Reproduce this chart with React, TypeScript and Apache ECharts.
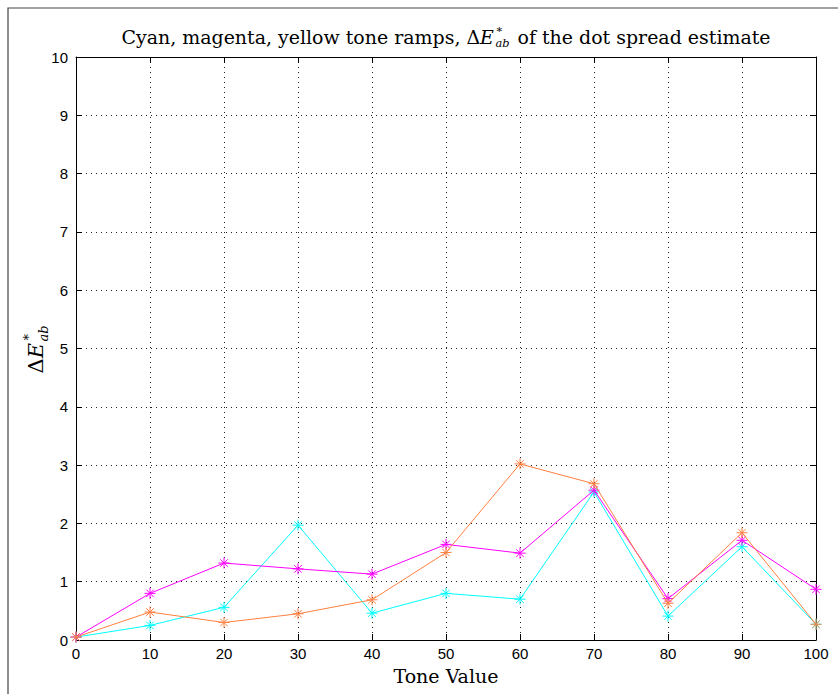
import React, { useEffect, useRef } from "react";
import * as echarts from "echarts";

const toneValues = [0, 10, 20, 30, 40, 50, 60, 70, 80, 90, 100];
const cyanValues = [0.05, 0.25, 0.56, 1.97, 0.46, 0.8, 0.7, 2.54, 0.41, 1.6, 0.27];
const magentaValues = [0.05, 0.8, 1.32, 1.22, 1.13, 1.64, 1.49, 2.57, 0.71, 1.71, 0.87];
const yellowValues = [0.05, 0.48, 0.3, 0.45, 0.69, 1.5, 3.02, 2.68, 0.63, 1.84, 0.27];
const seriesNames = ["Cyan", "Magenta", "Yellow"];
const seriesColors = ["#00FFFF", "#FF00FF", "#FF8040"];

const W = 838;
const H = 694;
const GRID = { left: 76, right: 22, top: 57, bottom: 54 };

const SERIF = "'DejaVu Serif', 'Liberation Serif', serif";
const SANS = "'Liberation Sans', Arial, sans-serif";

const ASTERISK = "path://M5,0L5,10M0,5L10,5M1.6,1.6L8.4,8.4M8.4,1.6L1.6,8.4";

function measure(text: string, font: string): number {
  const c = document.createElement("canvas");
  const ctx = c.getContext("2d")!;
  ctx.font = font;
  return ctx.measureText(text).width;
}

// builds graphic texts for "before ΔE*_ab after", vertically centred on y = 0
function mathLabel(before: string, after: string, size: number, small: number) {
  const fMain = `${size}px ${SERIF}`;
  const fItal = `italic ${size}px ${SERIF}`;
  const fSmallI = `italic ${small}px ${SERIF}`;
  const wBefore = measure(before + "Δ", fMain);
  const wE = measure("E", fItal);
  const wSub = measure("ab", fSmallI);
  const wScript = wSub + 2;
  const wAfter = after ? measure(after, fMain) : 0;
  const total = wBefore + wE + 1.5 + wScript + wAfter;
  const parts: any[] = [];
  const base = { fill: "#000", textVerticalAlign: "middle", textAlign: "left" };
  const lh = size * 0.68;
  let x = 0;
  parts.push({ type: "text", x, y: 0, style: { ...base, text: before + "Δ", font: fMain } });
  x += wBefore;
  parts.push({ type: "text", x, y: 0, style: { ...base, text: "E", font: fItal } });
  x += wE + 1.5;
  parts.push({
    type: "text",
    x,
    y: 0,
    style: {
      ...base,
      text: "{sup|*}\n{sub|ab}",
      rich: {
        sup: { fontFamily: SERIF, fontSize: small, lineHeight: lh, height: lh, fill: "#000", padding: [0, 0, 0, 1] },
        sub: { fontFamily: SERIF, fontStyle: "italic", fontSize: small, lineHeight: lh, height: lh, fill: "#000" },
      },
    },
  });
  x += wScript;
  if (after) {
    parts.push({ type: "text", x, y: 0, style: { ...base, text: after, font: fMain } });
  }
  return { parts, total };
}

export default function App() {
  const ref = useRef<HTMLDivElement>(null);
  useEffect(() => {
    if (!ref.current) return;
    const chart = echarts.init(ref.current, null, { renderer: "svg", width: W, height: H });

    const plotCx = GRID.left + (W - GRID.left - GRID.right) / 2;
    const plotCy = GRID.top + (H - GRID.top - GRID.bottom) / 2;

    // fit the title to the reference width
    const probe = mathLabel("Cyan, magenta, yellow tone ramps, ", " of the dot spread estimate", 18, 11);
    const tSize = Math.min(20, Math.max(14, (18 * 650) / probe.total));
    const title = mathLabel("Cyan, magenta, yellow tone ramps, ", " of the dot spread estimate", tSize, tSize * 0.6);
    const ylab = mathLabel("", "", 21, 13);

    const values = [cyanValues, magentaValues, yellowValues];
    const series = values.map((vals, i) => ({
      name: seriesNames[i],
      type: "line",
      xAxisIndex: 0,
      yAxisIndex: 0,
      data: toneValues.map((t, k) => [t, vals[k]]),
      symbol: ASTERISK,
      symbolSize: 11,
      showSymbol: true,
      lineStyle: { color: seriesColors[i], width: 1 },
      itemStyle: { color: "none", borderColor: seriesColors[i], borderWidth: 1 },
      emphasis: { disabled: true },
      z: 3 + i,
    }));

    const gridLine = { show: true, lineStyle: { color: "#222", width: 1, type: [1, 4] as any } };

    chart.setOption({
      animation: false,
      backgroundColor: "#fff",
      grid: { ...GRID, containLabel: false },
      xAxis: [
        {
          type: "value",
          min: 0,
          max: 100,
          interval: 10,
          position: "bottom",
          axisLine: { show: true, onZero: false, lineStyle: { color: "#000", width: 1 } },
          axisTick: { show: true, inside: true, length: 6, lineStyle: { color: "#000" } },
          axisLabel: { color: "#000", fontFamily: SANS, fontSize: 15, margin: 6 },
          splitLine: gridLine,
        },
        {
          type: "value",
          min: 0,
          max: 100,
          interval: 10,
          position: "top",
          axisLine: { show: true, onZero: false, lineStyle: { color: "#000", width: 1 } },
          axisTick: { show: true, inside: true, length: 6, lineStyle: { color: "#000" } },
          axisLabel: { show: false },
          splitLine: { show: false },
        },
      ],
      yAxis: [
        {
          type: "value",
          min: 0,
          max: 10,
          interval: 1,
          position: "left",
          axisLine: { show: true, onZero: false, lineStyle: { color: "#000", width: 1 } },
          axisTick: { show: true, inside: true, length: 6, lineStyle: { color: "#000" } },
          axisLabel: { color: "#000", fontFamily: SANS, fontSize: 15, margin: 8 },
          splitLine: gridLine,
        },
        {
          type: "value",
          min: 0,
          max: 10,
          interval: 1,
          position: "right",
          axisLine: { show: true, onZero: false, lineStyle: { color: "#000", width: 1 } },
          axisTick: { show: true, inside: true, length: 6, lineStyle: { color: "#000" } },
          axisLabel: { show: false },
          splitLine: { show: false },
        },
      ],
      series,
      graphic: [
        {
          type: "rect",
          shape: { x: 8, y: 8, width: 1000, height: 1000 },
          style: { fill: "none", stroke: "#444", lineWidth: 1.2 },
          silent: true,
          z: 0,
        },
        {
          type: "group",
          x: plotCx - title.total / 2,
          y: 37,
          children: title.parts,
        },
        {
          type: "text",
          x: plotCx,
          y: 676,
          style: { text: "Tone Value", font: `19px ${SERIF}`, fill: "#000", textAlign: "center", textVerticalAlign: "middle" },
        },
        {
          type: "group",
          x: 36,
          y: plotCy + ylab.total / 2,
          rotation: Math.PI / 2,
          children: ylab.parts,
        },
      ],
    });
    return () => chart.dispose();
  }, []);
  return <div ref={ref} style={{ position: "fixed", left: 0, top: 0, width: W, height: H, background: "#fff" }} />;
}
